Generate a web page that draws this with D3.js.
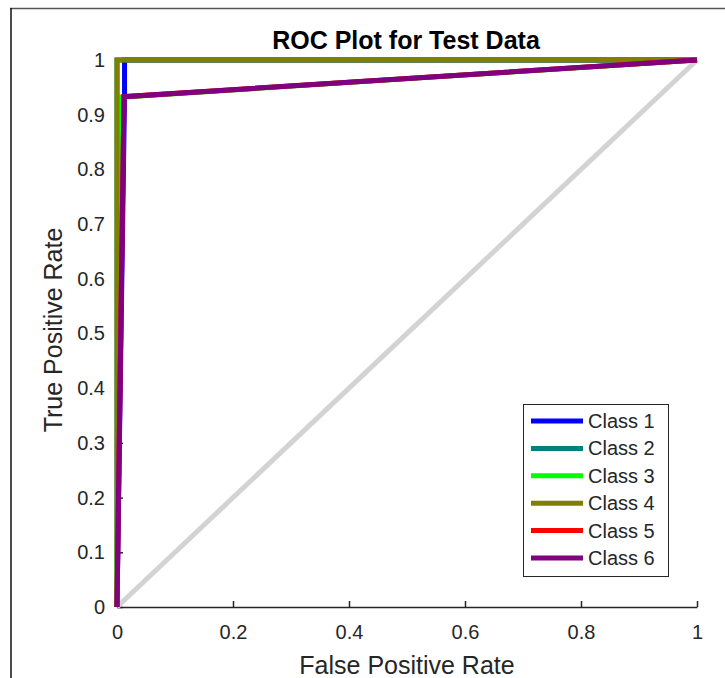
<!DOCTYPE html>
<html>
<head>
<meta charset="utf-8">
<script src="https://cdn.jsdelivr.net/npm/d3@7"></script>
<style>
  body { margin: 0; background: #fff; }
  svg { display: block; font-family: "Liberation Sans", Arial, sans-serif; }
</style>
</head>
<body>
<svg id="chart" width="725" height="678"></svg>
<script>
// ROC curves, one per class (false positive rate / true positive rate)
const classNames = ["Class 1", "Class 2", "Class 3", "Class 4", "Class 5", "Class 6"];
const classColors = ["#0000ff", "#008080", "#00ff00", "#808000", "#ff0000", "#800080"];
const fpr1 = [0, 0.013, 0.013, 1];
const tpr1 = [0, 0.935, 1, 1];
const fpr2 = [0, 0, 1];
const tpr2 = [0, 1, 1];
const fpr3 = [0, 0.005, 1];
const tpr3 = [0, 0.932, 1];
const fpr4 = [0, 0, 1];
const tpr4 = [0, 1, 1];
const fpr5 = [0, 0.012, 1];
const tpr5 = [0, 0.933, 1];
const fpr6 = [0, 0.012, 1];
const tpr6 = [0, 0.933, 1];
const chanceLine = [0, 1];
const xTicks = [0, 0.2, 0.4, 0.6, 0.8, 1];
const yTicks = [0, 0.1, 0.2, 0.3, 0.4, 0.5, 0.6, 0.7, 0.8, 0.9, 1];

const fprs = [fpr1, fpr2, fpr3, fpr4, fpr5, fpr6];
const tprs = [tpr1, tpr2, tpr3, tpr4, tpr5, tpr6];

const svg = d3.select("#chart");
const ink = "#262626";

// figure frame (top and left edges visible)
svg.append("line").attr("x1", 10).attr("x2", 725).attr("y1", 8.5).attr("y2", 8.5)
  .attr("stroke", "#555").attr("stroke-width", 1.5);
svg.append("line").attr("x1", 11).attr("x2", 11).attr("y1", 8).attr("y2", 678)
  .attr("stroke", "#111").attr("stroke-width", 1.5);

const x = d3.scaleLinear().domain([0, 1]).range([117, 697]);
const y = d3.scaleLinear().domain([0, 1]).range([607, 60]);

const xAxis = svg.append("g")
  .attr("transform", "translate(0," + y(0) + ")")
  .call(d3.axisBottom(x).tickValues(xTicks).tickFormat(d3.format("~g"))
    .tickSizeInner(-6).tickSizeOuter(0).tickPadding(18));
const yAxis = svg.append("g")
  .attr("transform", "translate(" + x(0) + ",0)")
  .call(d3.axisLeft(y).tickValues(yTicks).tickFormat(d3.format("~g"))
    .tickSizeInner(-6).tickSizeOuter(0).tickPadding(12));

[xAxis, yAxis].forEach(g => {
  g.select(".domain").attr("stroke", ink).attr("stroke-width", 1.5);
  g.selectAll(".tick line").attr("stroke", ink).attr("stroke-width", 1.5);
  g.selectAll(".tick text").attr("fill", ink).style("font-size", "20px");
});

const line = d3.line().x(d => x(d[0])).y(d => y(d[1]));

// chance diagonal
svg.append("path")
  .datum(chanceLine.map(v => [v, v]))
  .attr("fill", "none")
  .attr("stroke", "#d3d3d3")
  .attr("stroke-width", 5)
  .attr("d", line);

classNames.forEach((name, i) => {
  const pts = fprs[i].map((f, j) => [f, tprs[i][j]]);
  svg.append("path")
    .datum(pts)
    .attr("fill", "none")
    .attr("stroke", classColors[i])
    .attr("stroke-width", 5)
    .attr("d", line);
});

// title and axis labels
svg.append("text")
  .attr("x", 406).attr("y", 49)
  .attr("text-anchor", "middle")
  .attr("fill", "#000")
  .style("font-size", "25px").style("font-weight", "bold")
  .text("ROC Plot for Test Data");

svg.append("text")
  .attr("x", 407).attr("y", 674)
  .attr("text-anchor", "middle")
  .attr("fill", ink)
  .style("font-size", "25px")
  .text("False Positive Rate");

svg.append("text")
  .attr("transform", "translate(62,330) rotate(-90)")
  .attr("text-anchor", "middle")
  .attr("fill", ink)
  .style("font-size", "25px")
  .text("True Positive Rate");

// legend
const legend = svg.append("g");
legend.append("rect")
  .attr("x", 523.5).attr("y", 404.5)
  .attr("width", 145).attr("height", 172)
  .attr("fill", "#fff")
  .attr("stroke", ink).attr("stroke-width", 1);

const rowY = d3.scaleLinear().domain([0, 5]).range([421, 558]);
classNames.forEach((name, i) => {
  legend.append("line")
    .attr("x1", 531).attr("x2", 583)
    .attr("y1", rowY(i)).attr("y2", rowY(i))
    .attr("stroke", classColors[i]).attr("stroke-width", 5);
  legend.append("text")
    .attr("x", 588).attr("y", rowY(i))
    .attr("dy", "0.35em")
    .attr("fill", ink)
    .style("font-size", "20px")
    .text(name);
});
</script>
</body>
</html>
